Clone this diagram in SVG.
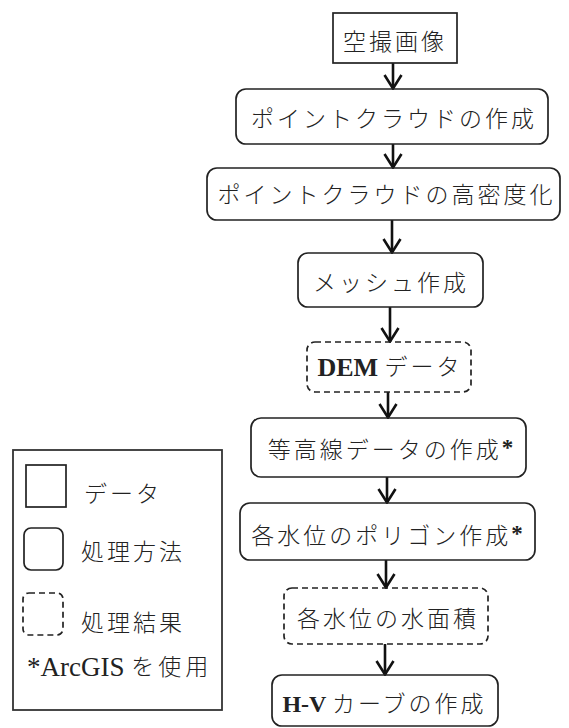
<svg xmlns="http://www.w3.org/2000/svg" width="569" height="728" viewBox="0 0 569 728">
<style>
  .bg { fill: #ffffff; }
  .data { fill: none; stroke: #222; stroke-width: 1.7; }
  .proc { fill: none; stroke: #222; stroke-width: 1.7; }
  .res { fill: none; stroke: #222; stroke-width: 1.7; stroke-dasharray: 6 4; }
  .conn line { stroke: #111; stroke-width: 2.6; marker-end: url(#arr); }
  text { font-family: "Liberation Serif", "Noto Sans CJK JP", serif; font-size: 23px; font-weight: 300; fill: #222; letter-spacing: 3px; dominant-baseline: central; }
  .c { text-anchor: middle; }
  .lat { font-weight: bold; letter-spacing: 0; }
  .legend { fill: none; stroke: #333; stroke-width: 1.8; }
</style>
<defs>
  <marker id="arr" viewBox="0 0 20 16" refX="10" refY="15" markerWidth="20" markerHeight="16" markerUnits="userSpaceOnUse" orient="0">
    <path d="M1.5,1 L10,14.5 L18.5,1" fill="none" stroke="#111" stroke-width="2.6" stroke-linejoin="miter"/>
  </marker>
</defs>
<rect class="bg" x="0" y="0" width="569" height="728"/>

<g id="connectors" class="conn">
  <line x1="393" y1="63" x2="393" y2="89"/>
  <line x1="393" y1="144" x2="393" y2="168"/>
  <line x1="392" y1="220" x2="392" y2="253"/>
  <line x1="390" y1="307" x2="390" y2="342"/>
  <line x1="388" y1="392" x2="388" y2="418"/>
  <line x1="387" y1="477" x2="387" y2="503"/>
  <line x1="386" y1="560" x2="386" y2="588"/>
  <line x1="385" y1="644" x2="385" y2="675"/>
</g>

<g id="n1">
  <rect class="data" x="333" y="13" width="124" height="50"/>
  <text class="c" x="395" y="42">空撮画像</text>
</g>
<g id="n2">
  <rect class="proc" x="236" y="89" width="312" height="55" rx="10"/>
  <text class="c" x="394" y="119">ポイントクラウドの作成</text>
</g>
<g id="n3">
  <rect class="proc" x="207" y="168" width="353" height="52" rx="10"/>
  <text class="c" x="386.5" y="195">ポイントクラウドの高密度化</text>
</g>
<g id="n4">
  <rect class="proc" x="298" y="253" width="185" height="54" rx="10"/>
  <text class="c" x="391" y="283">メッシュ作成</text>
</g>
<g id="n5">
  <rect class="res" x="307" y="342" width="164" height="50" rx="8"/>
  <text class="c" x="390" y="367"><tspan class="lat" font-size="26">DEM </tspan><tspan>データ</tspan></text>
</g>
<g id="n6">
  <rect class="proc" x="251" y="418" width="275" height="59" rx="10"/>
  <text class="c" x="390.5" y="450">等高線データの作成<tspan letter-spacing="0" font-weight="bold" dy="-3">*</tspan></text>
</g>
<g id="n7">
  <rect class="proc" x="240" y="503" width="295" height="57" rx="10"/>
  <text class="c" x="387" y="536">各水位のポリゴン作成<tspan letter-spacing="0" font-weight="bold" dy="-3">*</tspan></text>
</g>
<g id="n8">
  <rect class="res" x="284" y="588" width="204" height="56" rx="8"/>
  <text class="c" x="388" y="619">各水位の水面積</text>
</g>
<g id="n9">
  <rect class="proc" x="272" y="675" width="226" height="51" rx="10"/>
  <text class="c" x="384.5" y="704"><tspan class="lat" font-size="24">H-V </tspan><tspan>カーブの作成</tspan></text>
</g>

<g id="legend">
  <rect class="legend" x="13" y="450" width="209" height="260"/>
  <rect class="data" x="26" y="465" width="40" height="42"/>
  <text x="84" y="494" letter-spacing="4">データ</text>
  <rect class="proc" x="24" y="528" width="39" height="42" rx="7"/>
  <text x="81" y="552" letter-spacing="4">処理方法</text>
  <rect class="res" x="23" y="593" width="40" height="42" rx="6"/>
  <text x="81" y="623" letter-spacing="4">処理結果</text>
  <text x="27" y="667"><tspan letter-spacing="0" font-size="27">*ArcGIS </tspan><tspan letter-spacing="4">を使用</tspan></text>
</g>
</svg>
